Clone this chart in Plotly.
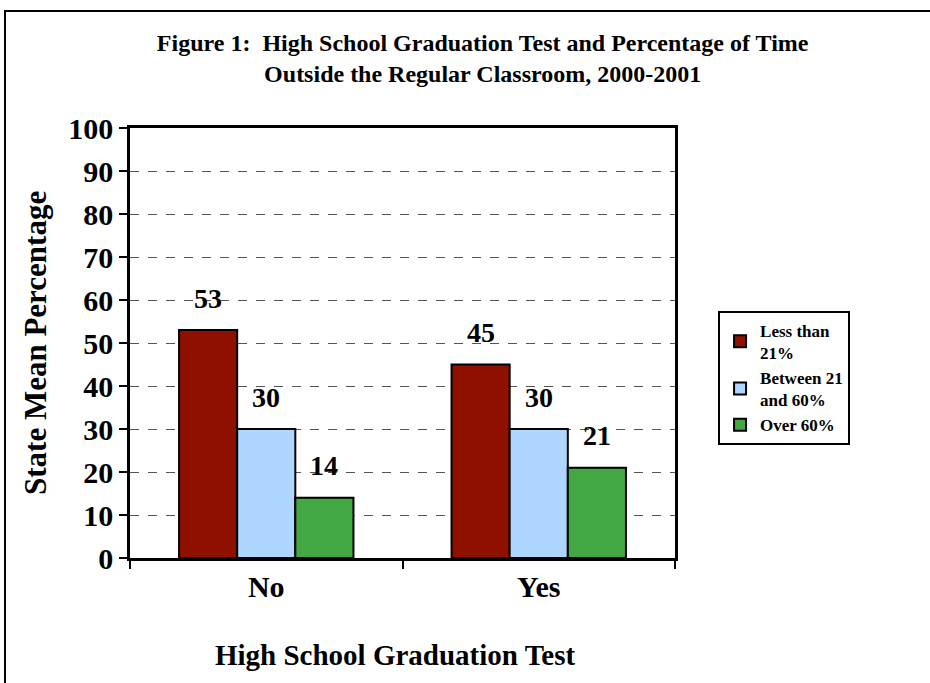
import plotly.graph_objects as go

categories = ["No", "Yes"]
series_names = ["Less than<br>21%", "Between 21<br>and 60%", "Over 60%"]
less_than_21 = [53, 45]
between_21_60 = [30, 30]
over_60 = [14, 21]
colors = ["#901000", "#AED6FE", "#43A743"]
y_ticks = [0, 10, 20, 30, 40, 50, 60, 70, 80, 90, 100]

FONT = "Liberation Serif"
BARGAP = 0.36

fig = go.Figure()
all_series = [less_than_21, between_21_60, over_60]
for name, vals, col in zip(series_names, all_series, colors):
    fig.add_trace(go.Bar(
        x=categories, y=vals, name=name,
        marker=dict(color=col, line=dict(color="black", width=2)),
        cliponaxis=False,
    ))

# value labels above each bar (positioned from the category index and bar group layout)
n = len(all_series)
bar_w = (1 - BARGAP) / n
for j, vals in enumerate(all_series):
    offset = (j - (n - 1) / 2) * bar_w
    for i, v in enumerate(vals):
        fig.add_annotation(
            x=i + offset, y=v, xref="x", yref="y", text=f"<b>{v}</b>",
            showarrow=False, yshift=32, yanchor="middle",
            font=dict(family=FONT, size=28, color="black"),
        )

fig.update_layout(
    width=930, height=683,
    paper_bgcolor="white", plot_bgcolor="white",
    barmode="group", bargap=BARGAP, bargroupgap=0,
    margin=dict(l=130, r=255, t=128, b=125, autoexpand=False),
    font=dict(family=FONT, color="black"),
    title=dict(
        text="<b>Figure 1:  High School Graduation Test and Percentage of Time<br>Outside the Regular Classroom, 2000-2001</b>",
        x=0.519, xanchor="center", xref="container",
        y=1 - 51 / 683, yanchor="top", yref="container",
        font=dict(family=FONT, size=24, color="black"),
    ),
    legend=dict(
        x=1.079, xanchor="left", y=0.575, yanchor="top",
        bordercolor="black", borderwidth=2,
        font=dict(family=FONT, size=17, color="black", weight="bold"),
        itemwidth=30, tracegroupgap=0,
    ),
    showlegend=True,
)

fig.update_xaxes(
    automargin=False,
    showline=True, linecolor="black", linewidth=2.5, mirror=True,
    ticks="outside", ticklen=8, tickwidth=2, tickcolor="black",
    tickson="boundaries",
    tickfont=dict(family=FONT, size=30, color="black", weight="bold"),
    showgrid=False,
)
fig.update_yaxes(
    automargin=False,
    range=[0, 100], tickvals=y_ticks,
    showline=True, linecolor="black", linewidth=2.5, mirror=True,
    ticks="outside", ticklen=8, tickwidth=2, tickcolor="black",
    tickfont=dict(family=FONT, size=30, color="black", weight="bold"),
    showgrid=True, gridcolor="#555555", gridwidth=1, griddash="dash",
    zeroline=False,
)

# axis titles
fig.add_annotation(
    x=0.5, y=-(655 - 558) / 430, xref="paper", yref="paper",
    text="<b>High School Graduation Test</b>", showarrow=False,
    xanchor="center", yanchor="middle", xshift=-7,
    font=dict(family=FONT, size=29, color="black"),
)
fig.add_annotation(
    x=-(130 - 35) / 545, y=0.5, xref="paper", yref="paper",
    text="<b>State Mean Percentage</b>", showarrow=False, textangle=-90,
    xanchor="center", yanchor="middle",
    font=dict(family=FONT, size=31, color="black"),
)

# outer figure frame
fig.add_shape(type="rect", xref="paper", yref="paper",
              x0=-125 / 545, y0=-0.5, x1=1.6, y1=(558 - 11) / 430,
              line=dict(color="black", width=2), fillcolor="rgba(0,0,0,0)",
              layer="below")

fig.write_html("out.html", config={"displayModeBar": False},
               post_script="document.body.style.margin='0';")
